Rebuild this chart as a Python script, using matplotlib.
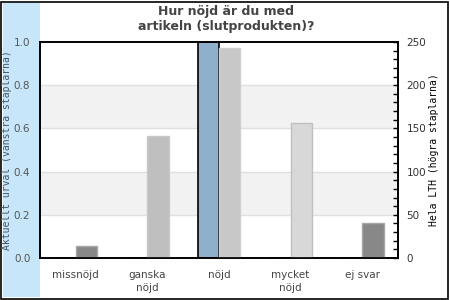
import matplotlib.pyplot as plt
from matplotlib.patches import Rectangle

categories = ["missnöjd", "ganska\nnöjd", "nöjd", "mycket\nnöjd", "ej svar"]
urval = [0.0, 0.0, 1.0, 0.0, 0.0]          # left axis (Aktuellt urval)
hela_lth = [14, 141, 243, 156, 41]          # right axis (Hela LTH)
lth_colors = ["#888888", "#bfbfbf", "#c8c8c8", "#d8d8d8", "#888888"]
lth_edges = ["#a8a8a8", "#c8c8c8", "#d0d0d0", "#c0c0c0", "#a8a8a8"]

fig = plt.figure(figsize=(4.5, 3), dpi=100)

# light blue strip behind left axis label, and frame around figure
fig.patches.append(Rectangle((3 / 450, 3 / 300), 37 / 450, 294 / 300,
                             transform=fig.transFigure, facecolor="#c8e6fa",
                             edgecolor="none", zorder=-2))
fig.patches.append(Rectangle((1 / 450, 1.5 / 300), 447 / 450, 296.5 / 300,
                             transform=fig.transFigure, facecolor="none",
                             edgecolor="black", linewidth=1.2, zorder=-1))

ax = fig.add_axes([40 / 450, 42 / 300, 358 / 450, 216 / 300])
ax.set_facecolor("none")
ax2 = ax.twinx()
ax.set_zorder(1)
ax2.set_zorder(2)

x = list(range(len(categories)))
w = 0.3

# alternating bands
for lo, hi in [(0.2, 0.4), (0.6, 0.8)]:
    ax.axhspan(lo, hi, color="#f2f2f2", zorder=0, lw=0)
for y in [0.2, 0.4, 0.6, 0.8]:
    ax.axhline(y, color="#e0e0e0", lw=1, zorder=0.5)

ax.bar([i - w / 2 for i in x], urval, width=w, color="#8eb0cc",
       edgecolor="black", linewidth=1.2, zorder=2)
ax2.bar([i + w / 2 for i in x], hela_lth, width=w, color=lth_colors,
        edgecolor=lth_edges, linewidth=1, zorder=2)

ax.set_xlim(-0.5, len(categories) - 0.5)
ax.set_ylim(0, 1)
ax2.set_ylim(0, 250)

ax.set_yticks([0, 0.2, 0.4, 0.6, 0.8, 1.0])
ax.set_yticklabels(["0.0", "0.2", "0.4", "0.6", "0.8", "1.0"])
ax.tick_params(axis="y", length=0, pad=7, labelsize=7.5, labelcolor="#555555")
ax.set_xticks(x)
ax.set_xticklabels(categories, fontsize=7.5, color="#444444", linespacing=1.3)
ax.tick_params(axis="x", length=0, pad=9)

ax2.set_yticks(range(0, 251, 50))
ax2.set_yticks(range(0, 251, 10), minor=True)
ax2.tick_params(axis="y", which="both", direction="in", length=3.5,
                width=1, labelsize=7.5, labelcolor="#333333", pad=6)

for a in (ax, ax2):
    for s in a.spines.values():
        s.set_color("black")
        s.set_linewidth(1.2)

mono = "DejaVu Sans Mono"
fig.text(7.5 / 450, 1 - 150 / 300, "Aktuellt urval (vänstra staplarna)",
         rotation=90, ha="center", va="center", family=mono, fontsize=7,
         color="#445566")
fig.text(434 / 450, 1 - 150 / 300, "Hela LTH (högra staplarna)",
         rotation=90, ha="center", va="center", family=mono, fontsize=7,
         color="black")

fig.text(226 / 450, 1 - 19 / 300, "Hur nöjd är du med\nartikeln (slutprodukten)?",
         ha="center", va="center", fontsize=9, fontweight="bold",
         color="#444444", linespacing=1.25)

fig.savefig("out.png", dpi=100)
